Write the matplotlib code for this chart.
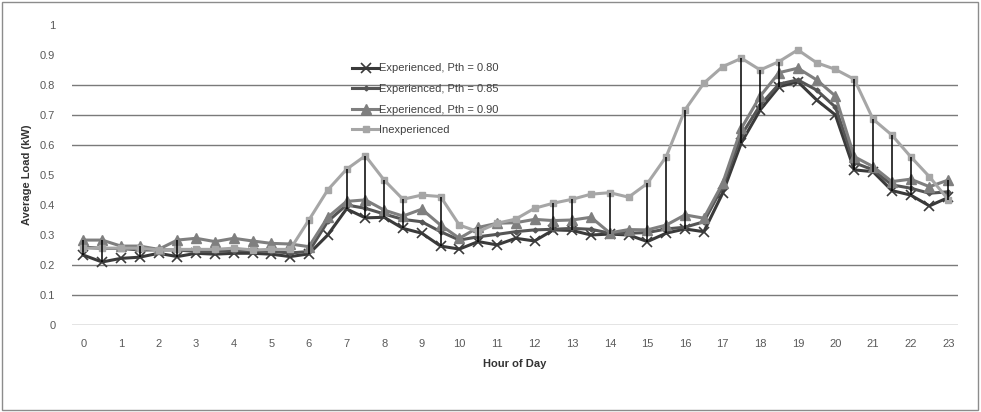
import numpy as np
import matplotlib
matplotlib.use("Agg")
import matplotlib.pyplot as plt
from matplotlib.patches import Rectangle

plt.rcParams['font.family'] = ['Liberation Sans', 'DejaVu Sans']

# half-hour readings, 0 .. 23 h
hours = np.arange(47) * 0.5

exp_080 = [0.233, 0.210, 0.222, 0.226, 0.239, 0.228, 0.239, 0.236, 0.239, 0.239, 0.236, 0.228,
           0.237, 0.300, 0.387, 0.357, 0.359, 0.322, 0.306, 0.263, 0.253, 0.278, 0.267, 0.289,
           0.280, 0.317, 0.315, 0.300, 0.303, 0.300, 0.278, 0.306, 0.320, 0.311, 0.439, 0.608,
           0.717, 0.794, 0.811, 0.750, 0.700, 0.517, 0.511, 0.448, 0.433, 0.397, 0.425]
exp_085 = [0.260, 0.255, 0.255, 0.250, 0.250, 0.250, 0.245, 0.245, 0.248, 0.248, 0.245, 0.240,
           0.245, 0.345, 0.400, 0.389, 0.370, 0.352, 0.344, 0.311, 0.283, 0.294, 0.302, 0.311,
           0.317, 0.319, 0.322, 0.319, 0.306, 0.306, 0.308, 0.320, 0.326, 0.344, 0.461, 0.633,
           0.733, 0.803, 0.817, 0.783, 0.726, 0.541, 0.517, 0.467, 0.456, 0.439, 0.444]
exp_090 = [0.283, 0.283, 0.263, 0.263, 0.252, 0.283, 0.289, 0.278, 0.289, 0.280, 0.272, 0.270,
           0.261, 0.359, 0.412, 0.417, 0.383, 0.363, 0.386, 0.333, 0.289, 0.325, 0.339, 0.341,
           0.352, 0.348, 0.350, 0.359, 0.307, 0.318, 0.317, 0.333, 0.367, 0.356, 0.472, 0.656,
           0.763, 0.841, 0.856, 0.817, 0.763, 0.561, 0.528, 0.478, 0.486, 0.461, 0.483]
inexp = [0.256, 0.256, 0.256, 0.256, 0.250, 0.252, 0.252, 0.252, 0.256, 0.250, 0.252, 0.252,
         0.350, 0.450, 0.519, 0.564, 0.483, 0.419, 0.433, 0.428, 0.333, 0.311, 0.339, 0.353,
         0.389, 0.406, 0.419, 0.436, 0.441, 0.426, 0.472, 0.561, 0.717, 0.806, 0.861, 0.889,
         0.850, 0.878, 0.917, 0.874, 0.852, 0.819, 0.686, 0.633, 0.561, 0.494, 0.418]

# half-hour slots that get a black range line
marked = [0, 1, 3, 5, 12, 14, 15, 16, 17, 19, 21, 25, 26, 28, 30, 31, 32,
          35, 36, 37, 41, 42, 43, 44, 46]

labels = ['Experienced, Pth = 0.80', 'Experienced, Pth = 0.85',
          'Experienced, Pth = 0.90', 'Inexperienced']

fig = plt.figure(figsize=(9.81, 4.12), dpi=100)
ax = fig.add_axes([0.0734, 0.2112, 0.9032, 0.7282])

ax.plot(hours, exp_080, color='#3a3a3a', lw=2.2, marker='x', ms=7, mew=1.2, label=labels[0], zorder=4)
ax.plot(hours, exp_085, color='#555555', lw=2.2, marker='D', ms=2.5, label=labels[1], zorder=4)
ax.plot(hours, exp_090, color='#7f7f7f', lw=2.2, marker='^', ms=7, label=labels[2], zorder=4)
ax.plot(hours, inexp, color='#a6a6a6', lw=2.2, marker='s', ms=4, label=labels[3], zorder=4)

allv = np.vstack([exp_080, exp_085, exp_090, inexp])
lo = allv.min(axis=0)
hi = allv.max(axis=0)
ax.vlines(hours[marked], lo[marked], hi[marked], color='black', lw=1.1, zorder=5)

for v in [0, 0.1, 0.2, 0.6, 0.7, 0.8]:
    ax.axhline(v, color='#7a7a7a', lw=1.0, zorder=1)

ax.set_xlim(-0.3, 23.26)
ax.set_ylim(0, 1)
ax.set_xticks(range(24))
ax.set_yticks(np.round(np.arange(0, 1.01, 0.1), 1))
ax.set_yticklabels(['0', '0.1', '0.2', '0.3', '0.4', '0.5', '0.6', '0.7', '0.8', '0.9', '1'])
ax.tick_params(length=0, labelsize=8, colors='#595959')
ax.tick_params(axis='y', pad=12)
ax.tick_params(axis='x', pad=10)
for s in ax.spines.values():
    s.set_visible(False)

ax.set_xlabel('Hour of Day', fontsize=8, fontweight='bold', color='#333333', labelpad=7)
ax.set_ylabel('Average Load (kW)', fontsize=8, fontweight='bold', color='#333333', labelpad=6)

ax.legend(loc='upper left', bbox_to_anchor=(0.305, 0.905), frameon=False, fontsize=8,
          handlelength=2.4, handletextpad=0.05, labelspacing=0.95, labelcolor='#404040')

fig.patches.append(Rectangle((0.002, 0.004), 0.995, 0.992, transform=fig.transFigure,
                             fill=False, edgecolor='#8c8c8c', lw=1.0))

fig.savefig('out.png', dpi=100)
